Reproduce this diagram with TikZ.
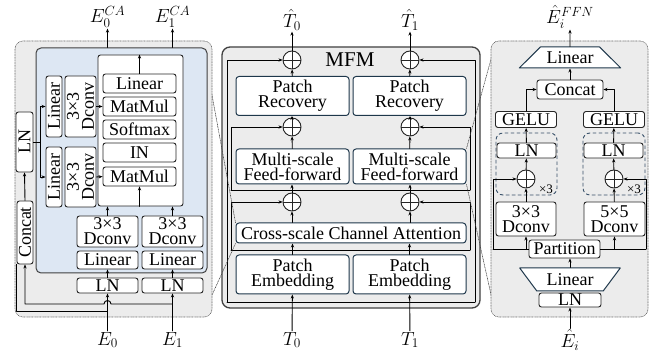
\RequirePackage{fix-cm}
\documentclass[tikz,border=0pt]{standalone}
\usepackage{fontspec}
\setmainfont{Liberation Serif}
\usetikzlibrary{shapes.geometric,arrows.meta,calc}
\definecolor{panelgray}{RGB}{236,236,236}
\definecolor{panelblue}{RGB}{221,231,243}
\definecolor{mfmline}{RGB}{30,55,75}
\definecolor{dashblue}{RGB}{55,80,105}
\begin{document}
\begin{tikzpicture}[x=1pt, y=-1pt, line cap=round, line join=round,
    font=\fontsize{18}{15}\selectfont,
    >={Stealth[length=4pt,width=3.2pt]},
    blk/.style={draw=black!85, fill=white, rounded corners=2.5pt, inner sep=0pt, line width=0.9pt, align=center},
    vblk/.style={blk, rotate=90},
    mblk/.style={draw=mfmline, fill=white, rounded corners=3pt, inner sep=0pt, line width=1pt, align=center},
    add/.style={circle, draw=black!85, fill=white, minimum size=18pt, inner sep=0pt, line width=0.9pt,
      path picture={\draw[line width=0.9pt] (path picture bounding box.north) -- (path picture bounding box.south)
        (path picture bounding box.west) -- (path picture bounding box.east);}},
    lab/.style={font=\fontsize{19}{19}\selectfont, inner sep=1pt},
    flow/.style={->, line width=0.9pt},
    link/.style={line width=0.9pt},
    zoomline/.style={densely dotted, line width=0.6pt, black!75},
    trap/.style={trapezium, trapezium stretches=true, draw=mfmline, fill=white, inner sep=0pt, line width=1pt},
    lpanel/.style={draw=black!60, densely dotted, fill=panelgray, rounded corners=8pt, line width=0.6pt},
    mpanel/.style={draw=black!75, fill=panelgray, rounded corners=8pt, line width=1.3pt},
    dashbox/.style={draw=dashblue, dashed, rounded corners=7pt, line width=0.9pt}]
  \useasboundingbox (0,0) rectangle (657,358);

  % ---------------- MFM (middle)
  \node[mpanel, minimum width=258, minimum height=261] (mp) at (351,177.5) {};
  \node[font=\fontsize{21}{21}\selectfont] (mfm) at (350,60) {MFM};
  \node[mblk, minimum width=113, minimum height=39] (pe0) at (292.5,274.5) {Patch\\Embedding};
  \node[mblk, minimum width=113, minimum height=39] (pe1) at (409.5,274.5) {Patch\\Embedding};
  \node[mblk, minimum width=230, minimum height=20] (csca) at (351,233) {Cross-scale Channel Attention};
  \node[mblk, minimum width=113, minimum height=35] (ms0) at (292.5,166.5) {Multi-scale\\Feed-forward};
  \node[mblk, minimum width=113, minimum height=35] (ms1) at (409.5,166.5) {Multi-scale\\Feed-forward};
  \node[mblk, minimum width=113, minimum height=39] (pr0) at (292.5,96) {Patch\\Recovery};
  \node[mblk, minimum width=113, minimum height=39] (pr1) at (409.5,96) {Patch\\Recovery};
  \node[lab] (t0) at (292,340) {$T_0$};
  \node[lab] (t1) at (410,340) {$T_1$};
  \node[lab] (th0) at (292,20) {$\hat{T}_0$};
  \node[lab] (th1) at (410,20) {$\hat{T}_1$};

  % skip paths
  \coordinate (oL) at (227,302); \coordinate (oR) at (475,302);
  \coordinate (cL) at (231,250); \coordinate (cR) at (470,250);
  \coordinate (mL) at (231,190); \coordinate (mR) at (470,190);
  \draw[link] (oL) -- (oR);
  \draw[link] (cL) -- (cR);
  \draw[link] (mL) -- (mR);

  \node[add] (a30) at (292,202) {};
  \node[add] (a31) at (410,202) {};
  \node[add] (a20) at (292,127) {};
  \node[add] (a21) at (410,127) {};
  \node[add] (a10) at (292,60) {};
  \node[add] (a11) at (410,60) {};

  \draw[flow] (oL) |- (a10.west);
  \draw[flow] (oR) |- (a11.east);
  \draw[flow] (cL) |- (a30.west);
  \draw[flow] (cR) |- (a31.east);
  \draw[flow] (mL) |- (a20.west);
  \draw[flow] (mR) |- (a21.east);

  \foreach \i in {0,1} {
    \draw[flow] (t\i) -- (pe\i);
    \draw[flow] (pe\i) -- (pe\i |- csca.south);
    \draw[flow] (a3\i |- csca.north) -- (a3\i);
    \draw[flow] (a3\i) -- (a3\i |- ms\i.south);
    \draw[flow] (ms\i) -- (a2\i);
    \draw[flow] (a2\i) -- (a2\i |- pr\i.south);
    \draw[flow] (pr\i) -- (a1\i);
    \draw[flow] (a1\i) -- (th\i);
  }

  % zoom guides
  \coordinate (lpa) at (202,41); \coordinate (lpb) at (202,317);
  \coordinate (rpa) at (496,41); \coordinate (rpb) at (496,317);
  \draw[zoomline] (csca.north west) -- (lpa);
  \draw[zoomline] (csca.south west) -- (lpb);
  \draw[zoomline] (ms1.north east) -- (rpa);
  \draw[zoomline] (ms1.south east) -- (rpb);

  % ---------------- cross-scale channel attention (left)
  \node[lpanel, minimum width=197, minimum height=276] (lp) at (113.5,179) {};
  \node[draw=black!75, fill=panelblue, rounded corners=5pt, line width=1pt,
    minimum width=171, minimum height=225] (bp) at (121.5,160.5) {};
  \node[blk, minimum width=85, minimum height=151] (wb) at (140.5,130.5) {};
  \node[blk, minimum width=73, minimum height=19] (lin) at (139.5,83.5) {Linear};
  \node[blk, minimum width=73, minimum height=19] (mm1) at (139.5,106.5) {MatMul};
  \node[blk, minimum width=73, minimum height=19] (smax) at (139.5,129.5) {Softmax};
  \node[blk, minimum width=73, minimum height=19] (inorm) at (139.5,152.5) {IN};
  \node[blk, minimum width=73, minimum height=19] (mm2) at (139.5,176.5) {MatMul};
  \node[vblk, minimum width=61, minimum height=16] (vl1) at (54,106.5) {Linear};
  \node[vblk, minimum width=61, minimum height=31] (vd1) at (80.5,106.5) {3×3\\Dconv};
  \node[vblk, minimum width=60, minimum height=16] (vl2) at (54,177) {Linear};
  \node[vblk, minimum width=60, minimum height=31] (vd2) at (80.5,177) {3×3\\Dconv};
  \node[vblk, minimum width=60, minimum height=17] (lnv) at (24.5,142) {LN};
  \node[vblk, minimum width=63, minimum height=16] (cat) at (25,232.5) {Concat};
  \node[blk, minimum width=61, minimum height=31] (dc0) at (107.5,231.5) {3×3\\Dconv};
  \node[blk, minimum width=61, minimum height=31] (dc1) at (172.5,231.5) {3×3\\Dconv};
  \node[blk, minimum width=61, minimum height=18] (li0) at (107.5,260) {Linear};
  \node[blk, minimum width=61, minimum height=18] (li1) at (172.5,260) {Linear};
  \node[blk, minimum width=61, minimum height=15] (ln0) at (107.5,285.5) {LN};
  \node[blk, minimum width=61, minimum height=15] (ln1) at (172.5,285.5) {LN};
  \node[lab] (e0) at (107.5,340) {$E_0$};
  \node[lab] (e1) at (172.5,340) {$E_1$};
  \node[lab] (e0ca) at (107.5,17) {$E_0^{CA}$};
  \node[lab] (e1ca) at (172.5,17) {$E_1^{CA}$};

  \draw[flow] (e0) -- (ln0);
  \draw[flow] (e1) -- (ln1);
  \draw[flow] (ln0) -- (li0);
  \draw[flow] (ln1) -- (li1);
  \draw[flow] (dc0) -- (dc0 |- wb.south);
  \draw[flow] (dc1) -- (dc1 |- wb.south);
  \draw[flow] (mm2 |- wb.south) -- (mm2);
  \draw[flow] (lin) -- (lin |- wb.north);
  \draw[flow] (bp.north -| e0ca) -- (e0ca);
  \draw[flow] (bp.north -| e1ca) -- (e1ca);
  \draw[flow] (vd1.south) -- (mm1.west);
  \draw[flow] (vd2.south) -- (mm2.west);
  \coordinate (split) at (40,142);
  \draw[link] (lnv.south) -- (split);
  \draw[flow] (split) |- (vl1.north);
  \draw[flow] (split) |- (vl2.north);
  \draw[flow] (cat.east) -- (lnv.west);
  \coordinate (j1) at (172.5,304);
  \coordinate (j0) at (107.5,311);
  \draw[flow] (j1) -- ($(e0 |- j1)+(3.5,0)$) arc[start angle=0, end angle=-180, radius=3.5]
    -- (cat.west |- j1) -- (cat.west);
  \draw[link] (j0) -| ($(cat.west)+(-8.5,0)$);

  % ---------------- multi-scale feed-forward (right)
  \node[lpanel, minimum width=157, minimum height=276] (rp) at (569.5,179) {};
  \node[trap, trapezium left angle=36, trapezium right angle=36, minimum width=102, minimum height=21] (lt) at (570,57.5) {Linear};
  \node[blk, minimum width=66, minimum height=19] (cc) at (570,89.5) {Concat};
  \node[blk, minimum width=61, minimum height=16] (g0) at (526,119.5) {GELU};
  \node[blk, minimum width=61, minimum height=16] (g1) at (614,119.5) {GELU};
  \node[dashbox, minimum width=61, minimum height=62] (db0) at (526.5,164) {};
  \node[dashbox, minimum width=62, minimum height=62] (db1) at (614,164) {};
  \node[blk, minimum width=59, minimum height=15] (lr0) at (526.5,150.5) {LN};
  \node[blk, minimum width=59, minimum height=15] (lr1) at (613.5,150.5) {LN};
  \node[add] (ar0) at (526,179) {};
  \node[add] (ar1) at (614,179) {};
  \node[font=\fontsize{13}{13}\selectfont, inner sep=1pt] (x30) at (546,189) {×3};
  \node[font=\fontsize{13}{13}\selectfont, inner sep=1pt] (x31) at (634,189) {×3};
  \node[blk, minimum width=60, minimum height=34] (dr0) at (526,219) {3×3\\Dconv};
  \node[blk, minimum width=61, minimum height=34] (dr1) at (614.5,219) {5×5\\Dconv};
  \node[blk, minimum width=71, minimum height=18] (part) at (564.5,249) {Partition};
  \node[trap, shape border rotate=180, trapezium left angle=45, trapezium right angle=45, minimum width=101, minimum height=23] (lb) at (570,279.5) {Linear};
  \node[blk, minimum width=62, minimum height=14] (lnb) at (570,300) {LN};
  \node[lab] (eh) at (570,340) {$\hat{E}_i$};
  \node[lab] (effn) at (570,17) {$\hat{E}_i^{FFN}$};

  \draw[flow] (eh) -- (lnb);
  \draw[flow] (lb.north) -- (lb.north |- part.south);
  \coordinate (pl) at (493,249); \coordinate (pr) at (646,249);
  \draw[link] (part.west) -- (pl);
  \draw[link] (part.east) -- (pr);
  \draw[flow] (pl) |- (ar0.west);
  \draw[flow] (pr) |- (ar1.east);
  \draw[flow] (dr0 |- part.west) -- (dr0);
  \draw[flow] (dr1 |- part.east) -- (dr1);
  \foreach \i in {0,1} {
    \draw[flow] (dr\i) -- (ar\i);
    \draw[flow] (ar\i) -- (lr\i);
    \draw[flow] (lr\i) -- (g\i);
  }
  \draw[flow] (g0.north) |- (cc.west);
  \draw[flow] (g1.north) |- (cc.east);
  \draw[flow] (cc) -- (lt);
  \draw[flow] (lt) -- (effn);
\end{tikzpicture}
\end{document}
